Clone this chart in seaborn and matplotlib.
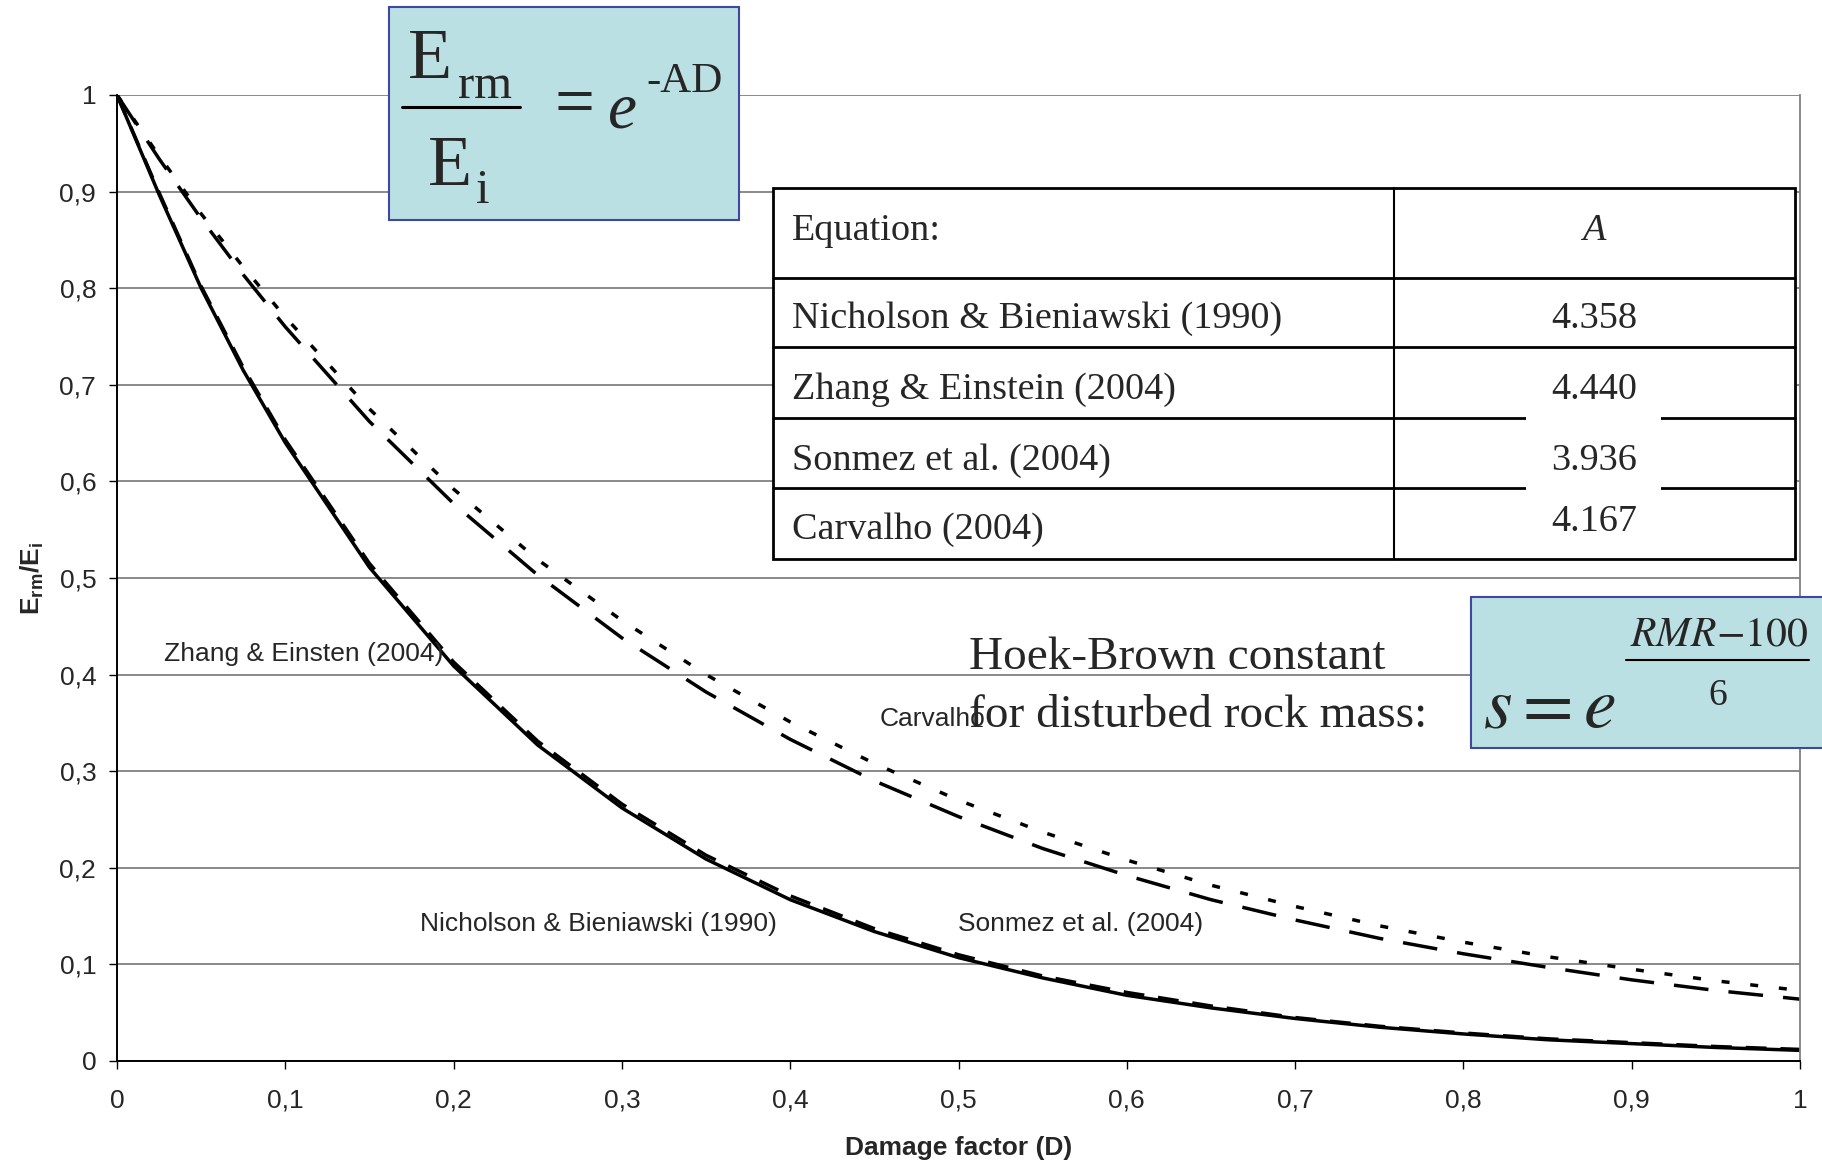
import numpy as np
import pandas as pd
import matplotlib
matplotlib.use("Agg")
import matplotlib.pyplot as plt
from matplotlib.patches import Rectangle
import seaborn as sns

# --- values ---
damage = [0.0, 0.025, 0.05, 0.075, 0.1, 0.15, 0.2, 0.25, 0.3, 0.35, 0.4, 0.45, 0.5,
          0.55, 0.6, 0.65, 0.7, 0.75, 0.8, 0.85, 0.9, 0.95, 1.0]
nicholson = [1.000, 0.897, 0.800, 0.715, 0.640, 0.511, 0.409, 0.327, 0.262, 0.209, 0.167, 0.134, 0.107,
             0.086, 0.068, 0.055, 0.044, 0.035, 0.028, 0.022, 0.018, 0.014, 0.011]
zhang = [1.000, 0.899, 0.802, 0.718, 0.643, 0.515, 0.413, 0.331, 0.266, 0.213, 0.171, 0.137, 0.110,
         0.088, 0.071, 0.057, 0.045, 0.036, 0.029, 0.023, 0.019, 0.015, 0.012]
sonmez = [1.000, 0.937, 0.877, 0.822, 0.770, 0.675, 0.592, 0.519, 0.456, 0.400, 0.351, 0.308, 0.270,
          0.237, 0.208, 0.182, 0.160, 0.140, 0.123, 0.108, 0.095, 0.083, 0.073]
carvalho = [1.000, 0.934, 0.872, 0.814, 0.760, 0.662, 0.577, 0.503, 0.438, 0.382, 0.333, 0.290, 0.253,
            0.220, 0.192, 0.167, 0.146, 0.127, 0.111, 0.097, 0.084, 0.073, 0.064]

tick_values = [0, 0.1, 0.2, 0.3, 0.4, 0.5, 0.6, 0.7, 0.8, 0.9, 1]
tick_labels = ["0", "0,1", "0,2", "0,3", "0,4", "0,5", "0,6", "0,7", "0,8", "0,9", "1"]

table_names = ["Nicholson & Bieniawski (1990)", "Zhang & Einstein (2004)",
               "Sonmez et al. (2004)", "Carvalho (2004)"]
table_A = ["4.358", "4.440", "3.936", "4.167"]

df = pd.DataFrame({"D": damage, "Nicholson": nicholson, "Zhang": zhang,
                   "Sonmez": sonmez, "Carvalho": carvalho})

sns.set_theme(style="white")
plt.rcParams['font.family'] = ['Liberation Sans', 'DejaVu Sans']
plt.rcParams['mathtext.fontset'] = 'custom'
plt.rcParams['mathtext.rm'] = 'Liberation Sans'
plt.rcParams['mathtext.bf'] = 'Liberation Sans:bold'
plt.rcParams['mathtext.it'] = 'Liberation Sans:italic'

W, H = 1822, 1164
fig = plt.figure(figsize=(W / 100, H / 100), dpi=100)
fig.patch.set_facecolor("white")
ax = fig.add_axes([117 / W, 1 - 1061 / H, 1683 / W, 966 / H])

styles = {
    "Nicholson": "-",
    "Zhang": (0, (6, 4)),
    "Sonmez": (0, (2.3, 6.0)),
    "Carvalho": (0, (10, 5.8)),
}
for name, ls in styles.items():
    sns.lineplot(data=df, x="D", y=name, ax=ax, color="black", lw=2.5, linestyle=ls)

ax.set_xlim(0, 1)
ax.set_ylim(0, 1)
ax.set_xticks(tick_values)
ax.set_xticklabels(tick_labels)
ax.set_yticks(tick_values)
ax.set_yticklabels(tick_labels)
ax.yaxis.grid(True, color="#808080", lw=1.3)
ax.xaxis.grid(False)
for s in ["left", "bottom"]:
    ax.spines[s].set_color("black")
    ax.spines[s].set_linewidth(1.4)
ax.spines["top"].set_visible(False)
ax.spines["right"].set_color("#808080")
ax.spines["right"].set_linewidth(1.3)
ax.tick_params(axis="both", direction="out", length=6, width=1, color="black",
               labelsize=19, left=True, bottom=True)
ax.tick_params(axis="x", pad=14)
ax.tick_params(axis="y", pad=9)

ax.set_xlabel("Damage factor (D)", fontsize=19, fontweight="bold")
ax.xaxis.set_label_coords(0.5, -0.09)
ax.xaxis.label.set_va("center")
ax.set_ylabel(r"$\mathbf{E_{rm}/E_i}$", fontsize=19)
ax.yaxis.set_label_coords(-0.05, 0.5)
ax.yaxis.label.set_va("center")

ax.text(0.028, 0.421, "Zhang & Einsten (2004)", fontsize=19, va="center")
ax.text(0.453, 0.354, "Carvalho", fontsize=19, va="center")
ax.text(0.18, 0.142, "Nicholson & Bieniawski (1990)", fontsize=19, va="center")
ax.text(0.5, 0.142, "Sonmez et al. (2004)", fontsize=19, va="center")

# overlay in pixel coordinates for boxes and table
ov = fig.add_axes([0, 0, 1, 1], zorder=10)
ov.set_xlim(0, W)
ov.set_ylim(H, 0)
ov.axis("off")
ov.patch.set_alpha(0)
serif = "Liberation Serif"
box_fc = "#BBE0E3"
box_ec = "#3F47A3"

# formula box 1
ov.add_patch(Rectangle((389, 7), 350, 213, fc=box_fc, ec=box_ec, lw=1.5, zorder=1))
ov.text(408, 78, "E", family=serif, fontsize=52, va="baseline", zorder=3)
ov.text(458, 98, "rm", family=serif, fontsize=35, va="baseline", zorder=3)
ov.plot([402, 520], [107, 107], color="black", lw=2.2, zorder=2)
ov.text(428, 185, "E", family=serif, fontsize=52, va="baseline", zorder=3)
ov.text(476, 203, "i", family=serif, fontsize=35, va="baseline", zorder=3)
ov.text(575, 125, "=", family=serif, fontsize=51, va="baseline", ha="center", zorder=3)
ov.text(608, 128, "e", family=serif, style="italic", fontsize=47, va="baseline", zorder=3)
ov.text(646, 92, "-AD", family=serif, fontsize=31, va="baseline", zorder=3)

# formula box 2
ov.add_patch(Rectangle((1471, 597), 370, 151, fc=box_fc, ec=box_ec, lw=1.5, zorder=1))
ov.text(1719, 645, r"$RMR{-}100$", fontsize=30, ha="center", va="baseline",
        math_fontfamily="stix", zorder=3)
ov.plot([1626, 1809], [660, 660], color="black", lw=1.5, zorder=2)
ov.text(1718, 705, "6", family=serif, fontsize=27, ha="center", va="baseline", zorder=3)
ov.text(1483, 728, r"$s = e$", fontsize=53, va="baseline", math_fontfamily="stix", zorder=3)

ov.text(969, 669, "Hoek-Brown constant", family=serif, fontsize=34, va="baseline", zorder=3)
ov.text(969, 727, "for disturbed rock mass:", family=serif, fontsize=34, va="baseline", zorder=3)

# table
tx0, tx1, tx2 = 773, 1394, 1795
rows = [188, 278, 347, 418, 488, 559]
ov.add_patch(Rectangle((tx0, rows[0]), tx2 - tx0, rows[-1] - rows[0], fc="white",
                       ec="black", lw=2, zorder=1))
for y in rows[1:-1]:
    ov.plot([tx0, tx2], [y, y], color="black", lw=2, zorder=2)
ov.plot([tx1, tx1], [rows[0], rows[-1]], color="black", lw=1.5, zorder=2)
ov.add_patch(Rectangle((1526, 412), 135, 82, fc="white", ec="none", zorder=2.5))

ov.text(792, 231, "Equation:", family=serif, fontsize=27.5, va="center", zorder=3)
ov.text(1594, 231, "A", family=serif, style="italic", fontsize=27.5, va="center",
        ha="center", zorder=3)
name_y = [319, 390, 461, 530]
val_y = [319, 390, 461, 522]
for name, a, ny, vy in zip(table_names, table_A, name_y, val_y):
    ov.text(792, ny, name, family=serif, fontsize=27.5, va="center", zorder=3)
    ov.text(1594, vy, a, family=serif, fontsize=27.5, va="center", ha="center", zorder=3)

fig.savefig("out.png", dpi=100)
